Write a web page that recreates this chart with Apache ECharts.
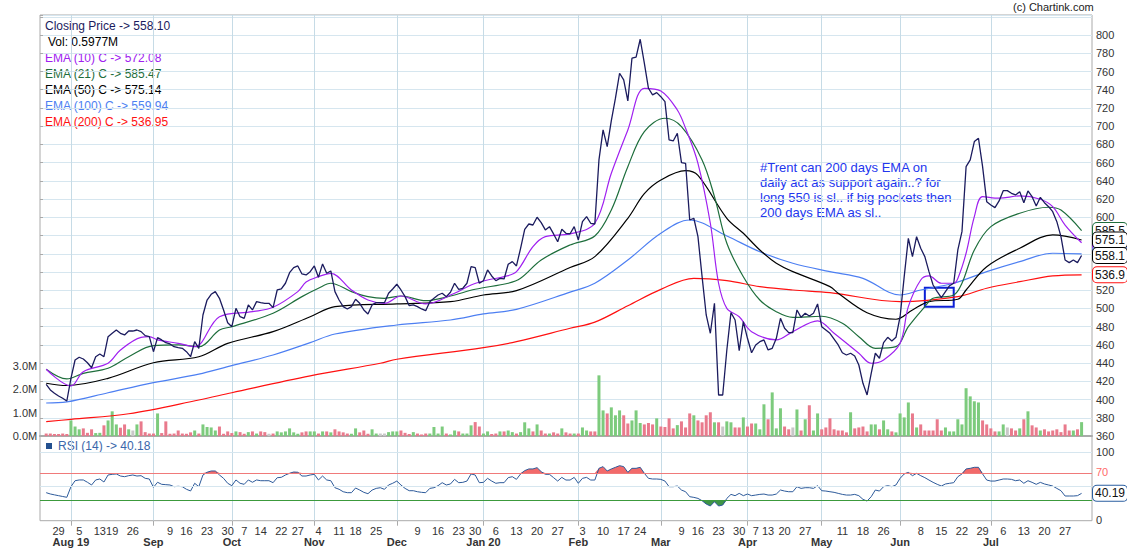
<!DOCTYPE html>
<html><head><meta charset="utf-8">
<script src="https://cdn.jsdelivr.net/npm/echarts@6/dist/echarts.min.js"></script>
<style>html,body{margin:0;padding:0;background:#fff}#c{width:1127px;height:551px}</style>
</head><body><div id="c"></div>
<script>
const FONT = '"Liberation Sans", Arial, sans-serif';
// trading days per month
const jul19=[24,25,26,29,30,31];
const aug19=[1,2,5,6,7,8,9,13,14,16,19,20,21,22,23,26,27,28,29,30];
const sep19=[3,4,5,6,9,11,12,13,16,17,18,19,20,23,24,25,26,27,30];
const oct19=[1,3,4,7,9,10,11,14,15,16,17,18,22,23,24,25,27,29,30,31];
const nov19=[1,4,5,6,7,8,11,13,14,15,18,19,20,21,22,25,26,27,28,29];
const dec19=[2,3,4,5,6,9,10,11,12,13,16,17,18,19,20,23,24,26,27,30,31];
const jan20=[1,2,3,6,7,8,9,10,13,14,15,16,17,20,21,22,23,24,27,28,29,30,31];
const feb20=[1,3,4,5,6,7,10,11,12,13,14,17,18,19,20,24,25,26,27,28];
const mar20=[2,3,4,5,6,9,11,12,13,16,17,18,19,20,23,24,25,26,27,30,31];
const apr20=[1,3,7,8,9,13,15,16,17,20,21,22,23,24,27,28,29,30];
const may20=[4,5,6,7,8,11,12,13,14,15,18,19,20,21,22,26,27,28,29];
const jun20=[1,2,3,4,5,8,9,10,11,12,15,16,17,18,19,22,23,24,25,26,29,30];
const jul20=[1,2,3,6,7,8,9,10,13,14,15,16,17,20,21,22,23,24,27,28,29,30,31];
const mk=(ym,d)=>d.map(x=>ym+'-'+String(x).padStart(2,'0'));
const dates=[].concat(mk('2019-07',jul19),mk('2019-08',aug19),mk('2019-09',sep19),mk('2019-10',oct19),mk('2019-11',nov19),mk('2019-12',dec19),mk('2020-01',jan20),mk('2020-02',feb20),mk('2020-03',mar20),mk('2020-04',apr20),mk('2020-05',may20),mk('2020-06',jun20),mk('2020-07',jul20));

const monthStarts=['2019-08-01','2019-09-03','2019-10-01','2019-11-01','2019-12-02','2020-01-01','2020-02-01','2020-03-02','2020-04-01','2020-05-04','2020-06-01','2020-07-01'];
const monthNames=['Aug 19','Sep','Oct','Nov','Dec','Jan 20','Feb','Mar','Apr','May','Jun','Jul'];
const weekStarts=['2019-07-29','2019-08-05','2019-08-13','2019-08-19','2019-08-26','2019-09-09','2019-09-16','2019-09-23','2019-09-30','2019-10-07','2019-10-14','2019-10-22','2019-10-27','2019-11-04','2019-11-11','2019-11-18','2019-11-25','2019-12-09','2019-12-16','2019-12-23','2019-12-30','2020-01-06','2020-01-13','2020-01-20','2020-01-27','2020-02-03','2020-02-10','2020-02-17','2020-02-24','2020-03-09','2020-03-16','2020-03-23','2020-03-30','2020-04-07','2020-04-13','2020-04-20','2020-04-27','2020-05-11','2020-05-18','2020-05-26','2020-06-08','2020-06-15','2020-06-22','2020-06-29','2020-07-06','2020-07-13','2020-07-20','2020-07-27'];
const priceTicks={min:360,max:822,step:20,lastLabel:800};
const volTicks={min:0,max:3,step:1};
const rsiLevels=[0,30,50,70,100];

const close=[416.8,410.6,407,404,401.5,398.5,423.4,443.5,446.5,444.6,440.5,435,447.1,450,447.1,469.1,472.8,476.4,472.8,471,
475.3,475.3,476.4,474.6,470.2,469.1,452.6,468,465.5,462.5,461.1,458.1,457,456.3,452.6,447.1,463.6,456.3,492.9,509.3,
515.6,518.5,511.2,498.4,484.4,480,500.2,491,489.2,503.9,498.4,507.5,506.4,505.7,505.7,500.9,520.3,521.4,527.7,539.3,
544.8,546.7,537.9,536.8,540.4,546.7,534.2,548.9,538.6,541.2,518.5,509.3,502,499.5,502,510.1,505.7,498.4,494,503.9,
506.4,506.4,506.4,516.7,521.4,526.6,520.3,513,503.1,503.9,502,499.5,497.6,507.5,511.2,514.8,516.7,513,517.8,527.7,
521.1,522.2,527.7,545.9,544.8,527.7,530.5,542.3,535.7,530.5,533.1,532.4,548.5,551.4,546.7,566,586.9,592.7,591.6,600.1,
594.2,586.2,589.8,581.8,573.3,587,582.5,582,589.8,575.2,595.3,600.8,593.5,592.7,663,695.9,677.6,706.1,730.7,758.1,
750.8,727.7,774.6,775.7,795.4,769.1,741.6,734.3,736.8,732.4,727,684.9,683.8,692.3,660,659.3,597.1,599,578.8,534.9,
492.9,472.8,505.7,405.1,405.1,454.5,495.4,487.4,453.7,485.5,467.3,451.5,460,463.6,465.5,454.5,456.3,467.3,489.2,478.3,
473.5,473.5,498.4,490.3,494.7,491.8,494.7,505,480,476.4,472.8,466.5,460,451.5,449,450.9,447.9,438,417.9,405.1,
428.9,450.9,445.4,462.5,468.4,464.4,468.4,491,534.9,577,556.9,578.8,566.1,556.9,540.4,525.8,518.5,511.9,518.5,525,
527.7,564.2,584.3,655.6,663,683.1,686.8,655.6,617.2,613.6,610.7,618,629.3,629.3,626.4,624.6,628.2,616.1,629,622.7,
612.5,622,616.1,611.7,606.2,595.3,578.8,553.2,550.3,553.2,550.3,558.1];

const volume=[0.11,0.11,0.09,0.09,0.11,0.09,0.67,0.41,0.29,0.33,0.14,0.29,0.13,0.14,0.46,0.67,1.06,0.5,0.36,0.5,
0.29,0.24,0.5,0.63,0.17,0.11,0.11,0.97,0.13,0.63,0.1,0.11,0.24,0.11,0.1,0.16,0.24,0.11,0.5,0.39,
0.37,0.24,0.41,0.1,0.2,0.13,0.2,0.17,0.1,0.17,0.2,0.11,0.2,0.17,0.1,0.11,0.2,0.16,0.2,0.33,
0.16,0.1,0.16,0.2,0.2,0.2,0.11,0.2,0.2,0.16,0.29,0.2,0.16,0.11,0.1,0.33,0.16,0.24,0.1,0.29,
0.11,0.11,0.11,0.17,0.2,0.2,0.24,0.14,0.09,0.17,0.11,0.07,0.11,0.11,0.39,0.11,0.41,0.11,0.07,0.24,
0.2,0.11,0.11,0.46,0.6,0.41,0.11,0.2,0.09,0.11,0.2,0.2,0.24,0.17,0.11,0.17,0.59,0.33,0.2,0.5,
0.24,0.11,0.11,0.16,0.11,0.33,0.16,0.11,0.11,0.11,0.37,0.24,0.2,0.2,2.6,1.1,0.97,1.23,0.89,1.1,
0.89,0.54,0.67,1.1,0.56,0.5,0.56,0.5,0.76,0.41,0.39,0.76,0.33,0.47,0.63,0.37,0.97,0.89,0.67,0.59,
0.89,1.02,0.59,0.59,0.41,0.63,0.59,0.37,0.37,0.8,0.41,0.54,0.54,0.29,1.36,0.72,1.87,0.33,1.19,0.41,
0.29,0.37,1.14,0.24,0.72,1.32,0.24,0.97,0.29,0.37,0.76,0.29,0.24,0.24,0.16,1.02,0.33,0.37,0.41,0.2,
0.5,0.5,0.29,0.67,0.29,0.2,0.16,0.97,0.8,1.44,0.97,0.37,0.5,0.24,0.24,0.24,0.72,0.24,0.37,0.2,
0.2,0.72,0.5,2.05,1.7,1.49,1.44,0.67,0.5,0.33,0.2,0.2,0.5,0.37,0.33,0.24,0.33,0.72,1.06,0.46,
0.37,0.24,0.29,0.2,0.24,0.29,0.17,0.5,0.24,0.24,0.29,0.5977];

const rsi=[41.2,39.3,38,36.8,35.6,34.4,50,58.8,59.9,59.9,56.5,52.5,59.9,61.3,56.9,67.2,68.2,68.7,65.7,64.7,
66.2,67.2,65.7,66.2,62.3,61.3,49.1,56.5,53.5,53,52.5,50,50.6,50,46.2,43.7,55,50,67.2,71.2,
73.1,73.1,67.2,62.3,55,51.5,59.9,55,53.5,59.9,56.5,59.9,58.8,58.8,58.8,55.9,63.2,63.8,67.2,69.7,
71.6,71.2,65.7,65.7,67.2,68.2,59.9,65.7,59.9,58.8,48.5,46.2,42.6,41.2,41.2,48.1,45.1,41.7,39.7,45,
47.5,48.5,46.1,52.5,55,58.3,52.5,47.5,44.1,44.1,42.6,41.7,41.2,47.5,48.5,51.5,55.9,52.5,54,60.8,
55.9,56.4,58.3,68.7,67.2,55.9,56.4,62.3,58.3,55,55.9,55.9,63.3,64.7,60.8,68.7,73.6,76.1,76.1,78,
72.1,68.2,68.2,63.3,58.3,63.7,59.8,59.8,63.7,55,62.3,63.7,59.8,59.8,77,79.5,73.1,76.1,78.5,80.9,
79.5,71.1,77,77,78.5,69.7,62.3,61.3,61.3,60.8,58.3,50,50,51,45.1,42.6,35.3,34.3,32.8,29.4,
24.5,21.6,27.9,21.6,23,32.8,38.7,36.8,40.2,36.8,39.2,36.8,37.7,38.7,39.2,37.7,37.7,39.2,45.1,43.6,
42.6,42.6,50,47.5,48.5,48.5,47.5,51.5,44.1,43.6,42.6,41.7,40.2,38.7,37.7,37.7,38.7,36.8,31.4,28.9,
35.3,45.1,43.6,50,51.5,50,52.5,62.3,68.7,71,66.2,69.6,66.2,63.3,59.8,56.4,53.5,51,54,55,
55.9,64.7,68.7,76.1,77,78.5,78.5,68.7,59.8,58.3,58.3,59.8,61.3,61.3,60.8,58.8,59.8,55,58.8,56.4,
53.5,56.4,54,52.5,51,47.5,44.1,36.3,36.3,36.3,36.8,40.19];

// EMA readings: [trading-day index, value]
const ema10Pts=[[0,433.3],[6,415],[9,430.7],[15,439.9],[18,454.5],[23,468.4],[25,469.1],[27,465.5],[32,461.8],[36,458.1],[42,491],[50,496.5],[55,501.3],[61,518.5],[63,529],[66,534.9],[69,538.6],[74,520.3],[78,509.3],[82,505.7],[86,513.7],[92,505],[99,516.7],[103,525.8],[107,531.3],[111,534.9],[114,540.4],[118,567.9],[121,578.8],[127,581.8],[133,593.5],[137,648.4],[141,695.9],[145,741.6],[149,738.7],[153,717.8],[155,697.7],[158,659.3],[161,593.5],[163,527.7],[165,500.2],[168,491],[171,474.6],[177,465.5],[181,474.6],[187,486.5],[191,472.8],[197,450.9],[200,439.9],[203,443.5],[207,461.8],[209,502],[212,531.3],[214,535.7],[217,527.7],[220,527.7],[221,533],[223,560.6],[225,600.8],[227,622.7],[231,621],[236,623.5],[241,619.9],[244,611.7],[247,591.6],[251,572.08]];
const ema21Pts=[[0,433.3],[5,422.7],[9,428.9],[15,434.4],[20,447.1],[26,459.2],[32,460],[37,458.1],[42,476.4],[45,480],[55,494.8],[62,513],[66,522.2],[69,527.7],[74,518.5],[78,513],[82,511.2],[86,513.7],[92,508.6],[98,513.7],[104,521.1],[112,527.7],[115,533.1],[120,553.2],[127,569.7],[133,579.6],[137,608.1],[141,655.6],[145,694],[150,708.7],[154,699.5],[159,663],[162,622.7],[165,571.5],[169,534.9],[173,509.3],[177,496.5],[181,490.3],[188,491.5],[193,483.8],[197,469.1],[201,456.3],[206,458.1],[209,480],[213,502],[215,511.2],[220,514.8],[222,527.7],[225,564.2],[229,589.8],[236,604.5],[243,611.1],[246,608],[251,585.47]];
const ema50Pts=[[0,418],[5,415.5],[15,423.4],[26,440.5],[37,447.1],[44,461.8],[55,474.6],[64,491],[70,502],[85,505],[98,507.5],[106,514.8],[114,519.6],[127,545],[133,556.9],[141,599],[145,626],[149,641],[155,651.2],[158,646],[165,599],[169,582.5],[173,564.2],[177,549.6],[181,540.4],[190,524],[192,516.7],[199,495.4],[206,488.2],[210,498.4],[214,507.5],[221,510.1],[223,520.3],[228,545.9],[236,566.1],[244,580.7],[251,575.14]];
const ema100Pts=[[0,396.3],[5,397.5],[15,407.6],[26,418.6],[37,428],[44,436.2],[55,449],[64,462.5],[70,472],[85,481.9],[98,487.4],[106,494],[114,499.1],[127,518],[133,527.7],[141,553.2],[149,582.5],[156,597.1],[165,579.6],[173,562.3],[181,549.6],[190,540.4],[198,533.1],[207,514.8],[212,520.3],[220,527.7],[228,540.4],[236,551.4],[244,560.6],[251,559.94]];
const ema200Pts=[[0,375.8],[6,378.4],[20,384.5],[37,399.6],[45,407.6],[64,426],[81,439.9],[85,444.3],[106,457],[114,463.6],[127,478.3],[133,485],[141,503],[149,521],[157,533.1],[165,530.5],[173,524],[181,520.3],[190,517.4],[207,507.5],[221,513],[228,522.2],[236,529.4],[244,535.7],[251,536.95]];

const lastClose=558.10, lastVol='0.5977M', lastEma10=572.08, lastEma21=585.47, lastEma50=575.14, lastEma100=559.94, lastEma200=536.95, lastRsi=40.18, lastRsiBox=40.19;
const boxDate=['2020-06-09','2020-06-18'], boxRange=[502,522.8];
const noteLines=['#Trent can 200 days EMA on','daily act as support again..? for','long 550 is sl.. if big pockets then','200 days EMA as sl..'];

const C={close:'#1b1b5e',e10:'#a020f0',e21:'#1e6e3c',e50:'#000000',e100:'#4d7ff2',e200:'#ff1010',rsi:'#2d5a9a',grid:'#d6e6ef',vgrid:'#c6dbe6',frame:'#aaaaaa',up:'#7dcb7d',down:'#e97a8c',flat:'#c8c8c8'};

const monthSet=new Set(monthStarts), weekSet=new Set(weekStarts);
const isMonth=(i)=>monthSet.has(dates[i]);
const isWeek=(i)=>weekSet.has(dates[i]);
const pts=(a)=>a.map(p=>[dates[p[0]],p[1]]);
const fmt1=(v)=>(Math.round((v-0.0001)*10)/10).toFixed(1);

const L=46.19, W=1035.4, RSI_MAX=124.4;
const chart=echarts.init(document.getElementById('c'),null,{renderer:'svg'});

function emaSeries(name,data,color){
  return {name,type:'line',xAxisIndex:1,yAxisIndex:1,data:pts(data),symbol:'none',smooth:0.35,
    lineStyle:{color,width:1.2},silent:true,z:3};
}
function boxSeries(value,text,border,z,xi,yi){
  return {type:'line',xAxisIndex:xi,yAxisIndex:yi,data:[],silent:true,z,
    markLine:{silent:true,symbol:'none',animation:false,lineStyle:{color:'rgba(255,255,255,0)',width:0.01,type:'solid'},
      label:{show:true,position:'end',distance:1,formatter:text,color:'#111',fontSize:12,fontFamily:FONT,opacity:1,
        backgroundColor:'#fff',borderColor:border,borderWidth:1,borderRadius:4,padding:[2,2,1,2]},
      data:[{yAxis:value}]}};
}
const rsiLineStyle=(v)=>v===70?{color:'#f07a7a',width:1,type:'solid'}:v===30?{color:'#3c9a3c',width:1,type:'solid'}:{color:C.grid,width:1,type:'solid'};
const rsiLevelData=rsiLevels.filter(v=>v>0).map(v=>({yAxis:v,lineStyle:rsiLineStyle(v)}));

const volData=volume.map((v,i)=>{
  const col = i===0 ? C.down : close[i]>close[i-1] ? C.up : close[i]<close[i-1] ? C.down : C.flat;
  return {value:v,itemStyle:{color:col}};
});

const legendItems=[
  ['Closing Price -> '+lastClose.toFixed(2),C.close,45],
  ['Vol: '+lastVol,'#000',48],
  ['EMA (10) C -> '+lastEma10.toFixed(2),C.e10,45],
  ['EMA (21) C -> '+lastEma21.toFixed(2),C.e21,45],
  ['EMA (50) C -> '+lastEma50.toFixed(2),C.e50,45],
  ['EMA (100) C -> '+lastEma100.toFixed(2),C.e100,45],
  ['EMA (200) C -> '+lastEma200.toFixed(2),C.e200,45]
];
const graphics=legendItems.map((it,k)=>({type:'text',left:it[2],top:19.5+k*16,silent:true,
  style:{text:it[0],fill:it[1],font:'12px '+FONT}}));
graphics.push({type:'text',left:1013,top:1,silent:true,style:{text:'(c) Chartink.com',fill:'#222',font:'11px '+FONT}});
graphics.push({type:'text',left:760,top:160,silent:true,style:{text:noteLines.join('\n'),fill:'#2236ee',font:'13px '+FONT,lineHeight:15.1}});
graphics.push({type:'rect',left:46,top:443,silent:true,shape:{width:6,height:6},style:{fill:'#23508f'}});
graphics.push({type:'text',left:58,top:439.5,silent:true,style:{text:'RSI (14) -> '+lastRsi.toFixed(2),fill:'#3a66aa',font:'12px '+FONT}});

const option={
  animation:false,
  backgroundColor:'#fff',
  textStyle:{fontFamily:FONT},
  grid:[
    {left:40,top:15,width:1052,height:421.1,show:true,borderColor:C.frame,borderWidth:1,backgroundColor:'rgba(0,0,0,0)'},
    {left:L,top:15,width:W,height:421.1},
    {left:L,top:366,width:W,height:70.1},
    {left:40,top:436.1,width:1052,height:84.6,show:true,borderColor:C.frame,borderWidth:1,backgroundColor:'rgba(0,0,0,0)'},
    {left:L,top:436.1,width:W,height:84.6}
  ],
  xAxis:[
    {gridIndex:0,type:'value',min:0,max:1,position:'bottom',axisLabel:{show:false},axisTick:{show:false},splitLine:{show:false},axisLine:{show:true,lineStyle:{color:C.frame,width:2}}},
    {gridIndex:1,type:'category',data:dates,boundaryGap:false,position:'bottom',axisLine:{show:false},axisTick:{show:false},axisLabel:{show:false},
      splitLine:{show:true,interval:isMonth,lineStyle:{color:C.vgrid,width:1}}},
    {gridIndex:2,type:'category',data:dates,boundaryGap:false,show:false},
    {gridIndex:3,type:'value',min:0,max:1,show:false},
    {gridIndex:4,type:'category',data:dates,boundaryGap:false,position:'bottom',axisLine:{show:false},
      axisTick:{show:true,interval:isMonth,length:5,lineStyle:{color:C.frame}},
      axisLabel:{show:true,interval:(i)=>isWeek(i),formatter:(v)=>String(parseInt(v.slice(8),10)),fontSize:11,color:'#333',margin:5,fontFamily:FONT},
      splitLine:{show:true,interval:isMonth,lineStyle:{color:C.vgrid,width:1}}},
    {gridIndex:4,type:'category',data:dates,boundaryGap:false,position:'bottom',offset:0,axisLine:{show:false},axisTick:{show:false},splitLine:{show:false},
      axisLabel:{show:true,interval:(i)=>isMonth(i),formatter:(v)=>monthNames[monthStarts.indexOf(v)],fontSize:11,fontWeight:'bold',color:'#333',margin:16,fontFamily:FONT}}
  ],
  yAxis:[
    {gridIndex:0,type:'value',position:'right',min:priceTicks.min,max:priceTicks.max,interval:priceTicks.step,
      axisLine:{show:false},axisTick:{show:true,length:3,lineStyle:{color:C.frame}},
      axisLabel:{formatter:(v)=>v<=priceTicks.lastLabel?String(v):'',fontSize:11,color:'#333',margin:4,fontFamily:FONT},
      splitLine:{show:true,lineStyle:{color:C.grid,width:1}}},
    {gridIndex:1,type:'value',min:priceTicks.min,max:priceTicks.max,show:false},
    {gridIndex:2,type:'value',position:'left',min:volTicks.min,max:volTicks.max,interval:volTicks.step,
      axisLine:{show:false},axisTick:{show:false},splitLine:{show:false},
      axisLabel:{formatter:(v)=>v.toFixed(1)+'M',fontSize:11,color:'#333',margin:9,fontFamily:FONT}},
    {gridIndex:3,type:'value',min:0,max:RSI_MAX,show:false},
    {gridIndex:4,type:'value',min:0,max:RSI_MAX,show:false}
  ],
  graphic:graphics,
  series:[
    {type:'bar',xAxisIndex:2,yAxisIndex:2,data:volData,barWidth:3,silent:true,z:1},
    emaSeries('EMA200',ema200Pts,C.e200),
    emaSeries('EMA100',ema100Pts,C.e100),
    emaSeries('EMA50',ema50Pts,C.e50),
    emaSeries('EMA21',ema21Pts,C.e21),
    emaSeries('EMA10',ema10Pts,C.e10),
    {name:'Close',type:'line',xAxisIndex:1,yAxisIndex:1,data:close,symbol:'none',lineStyle:{color:C.close,width:1.3},silent:true,z:4,
      markArea:{silent:true,itemStyle:{color:'rgba(0,0,0,0)',borderColor:'#0b1fd6',borderWidth:2},
        data:[[{xAxis:boxDate[0],yAxis:boxRange[1]},{xAxis:boxDate[1],yAxis:boxRange[0]}]]}},
    {type:'line',xAxisIndex:3,yAxisIndex:3,data:[],silent:true,z:1,
      markLine:{silent:true,symbol:'none',animation:false,label:{show:false},data:rsiLevelData}},
    {type:'line',xAxisIndex:4,yAxisIndex:4,stack:'ob',data:rsi.map(()=>70),symbol:'none',lineStyle:{opacity:0},silent:true,z:2},
    {type:'line',xAxisIndex:4,yAxisIndex:4,stack:'ob',data:rsi.map(v=>Math.max(v,70)-70),symbol:'none',lineStyle:{opacity:0},areaStyle:{color:'#f26a6a',opacity:1},silent:true,z:2},
    {type:'line',xAxisIndex:4,yAxisIndex:4,stack:'os',data:rsi.map(v=>Math.min(v,30)),symbol:'none',lineStyle:{opacity:0},silent:true,z:2},
    {type:'line',xAxisIndex:4,yAxisIndex:4,stack:'os',data:rsi.map(v=>30-Math.min(v,30)),symbol:'none',lineStyle:{opacity:0},areaStyle:{color:'#3f9445',opacity:1},silent:true,z:2},
    {name:'RSI',type:'line',xAxisIndex:4,yAxisIndex:4,data:rsi,symbol:'none',lineStyle:{color:C.rsi,width:1},silent:true,z:3},
    boxSeries(lastEma21,fmt1(lastEma21),C.e21,10,0,0),
    boxSeries(lastEma10,fmt1(lastEma10),C.e10,11,0,0),
    boxSeries(lastEma100,fmt1(lastEma100),C.e100,12,0,0),
    boxSeries(lastEma50,fmt1(lastEma50),'#000',13,0,0),
    boxSeries(lastClose,fmt1(lastClose),'#000',14,0,0),
    boxSeries(lastEma200,fmt1(lastEma200),C.e200,15,0,0),
    boxSeries(lastRsiBox,lastRsiBox.toFixed(2),'#2a5ea0',20,3,3)
  ]
};
chart.setOption(option);

// RSI level labels placed through the RSI axis scale (drawn above everything else)
const rsiLabelGraphics=rsiLevels.map(v=>{
  const y=chart.convertToPixel({yAxisIndex:3},v);
  return {type:'text',x:1096,y:y-6.5,z:100,zlevel:0,silent:true,
    style:{text:String(v),fill:v===70?'#ff6a6a':'#333',font:'11px '+FONT}};
});
// keep the 40.19 box above the 30/50 labels as in the reference
chart.setOption({graphic:graphics.concat(rsiLabelGraphics.filter(g=>g.style.text!=='30'&&g.style.text!=='50'))});
</script>
</body></html>
